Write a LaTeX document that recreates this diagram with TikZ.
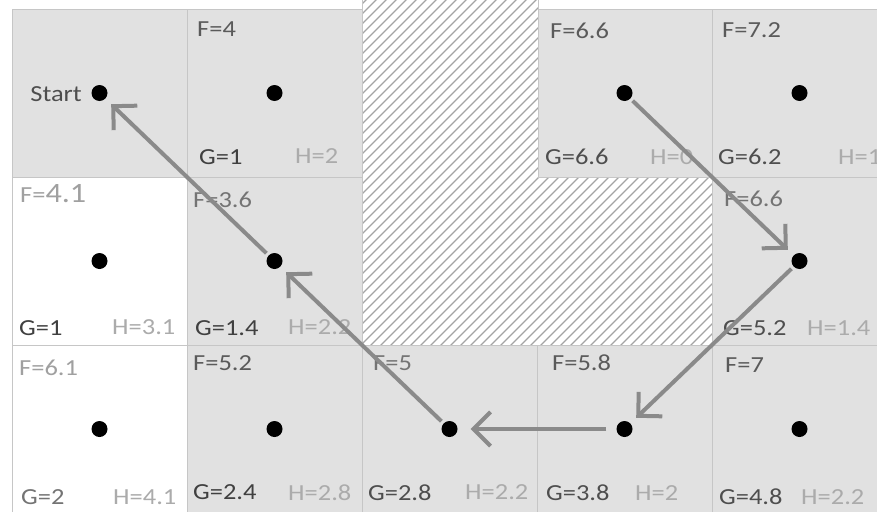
\documentclass[tikz,border=0pt]{standalone}
\usepackage{fontspec}
\setmainfont{Carlito}[FakeStretch=1.15]
\usetikzlibrary{arrows.meta}
\definecolor{cellgray}{HTML}{E1E1E1}
\definecolor{gridline}{HTML}{C6C6C6}
\definecolor{hatchc}{HTML}{A4A4A4}
\definecolor{arrowc}{HTML}{8A8A8A}
\definecolor{fdark}{HTML}{5A5A5A}
\definecolor{fmid}{HTML}{747474}
\definecolor{flight}{HTML}{A0A0A0}
\definecolor{gdark}{HTML}{404040}
\definecolor{gmid}{HTML}{4E4E4E}
\definecolor{hlight}{HTML}{ABABAB}
\tikzset{
  graycell/.style={fill=cellgray, draw=gridline, line width=0.9pt},
  whitecell/.style={fill=white, draw=gridline, line width=0.9pt},
  hatchline/.style={draw=hatchc, line width=1.1pt},
  dot/.style={circle, fill=black, inner sep=0pt, minimum size=16pt},
  lbl/.style={anchor=west, inner sep=0pt, font=\fontsize{23}{26}\selectfont},
  route/.style={draw=arrowc, line width=4pt, -{Straight Barb[length=17pt,width=34pt]}, shorten <=3pt, shorten >=8pt},
}
\begin{document}
\begin{tikzpicture}[x=1pt,y=-1pt]
\useasboundingbox (0,0) rectangle (877,511);
\clip (0,0) rectangle (877,511);
\fill[white] (0,0) rectangle (877,511);
% cells
\foreach \c/\r/\s in {0/0/graycell,1/0/graycell,3/0/graycell,4/0/graycell,
  0/1/whitecell,1/1/graycell,4/1/graycell,
  0/2/whitecell,1/2/graycell,2/2/graycell,3/2/graycell,4/2/graycell}{
  \path[\s] ({12+175*\c},{9+168*\r}) rectangle ++(175,168);
}
% hatched obstacle
\begin{scope}
  \clip (362,0) -- (538,0) -- (538,177) -- (712,177) -- (712,345) -- (362,345) -- cycle;
  \fill[white] (362,0) rectangle (712,345);
  \foreach \k in {0,...,74}{
    \draw[hatchline] ({6+10*\k},350) -- ++(400,-400);
  }
\end{scope}
\draw[gridline, line width=0.9pt] (362,0) -- (362,345) -- (712,345) -- (712,177) -- (538,177) -- (538,0);
% dots
\foreach \c in {0,1,3,4}{
  \node[dot] (d\c0) at ({99.5+175*\c},93) {};
}
\node[dot] (d01) at (99.5,261) {};
\node[dot] (d11) at (274.5,261) {};
\node[dot] (d41) at (799.5,261) {};
\foreach \c in {0,...,4}{
  \node[dot] (d\c2) at ({99.5+175*\c},429) {};
}
% labels row 1
\node[lbl, anchor=east, text=gmid] (start) at (82,94) {Start};
\node[lbl, text=fdark] (f10) at (197,29) {F=4};
\node[lbl, text=gdark] (g10) at (199,157) {G=1};
\node[lbl, text=hlight] (h10) at (295,156) {H=2};
\node[lbl, text=fdark] (f30) at (550,31) {F=6.6};
\node[lbl, text=gmid] (g30) at (545,157) {G=6.6};
\node[lbl, text=hlight] (h30) at (650,157) {H=0};
\node[lbl, text=fdark] (f40) at (722,30) {F=7.2};
\node[lbl, text=gmid] (g40) at (718,157) {G=6.2};
\node[lbl, text=hlight] (h40) at (838,157) {H=1};
% labels row 2
\node[lbl, text=flight] (f01) at (20,194) {F=\fontsize{28}{30}\selectfont 4.1};
\node[lbl, text=gdark] (g01) at (19,328) {G=1};
\node[lbl, text=hlight] (h01) at (112,327) {H=3.1};
\node[lbl, text=fmid] (f11) at (193,200) {F=3.6};
\node[lbl, text=gdark] (g11) at (195,328) {G=1.4};
\node[lbl, text=hlight] (h11) at (288,327) {H=2.2};
\node[lbl, text=fmid] (f41) at (724,199) {F=6.6};
\node[lbl, text=gmid] (g41) at (723,328) {G=5.2};
\node[lbl, text=hlight] (h41) at (807,328) {H=1.4};
% labels row 3
\node[lbl, text=flight] (f02) at (19,368) {F=6.1};
\node[lbl, text=fmid] (g02) at (21,497) {G=2};
\node[lbl, text=hlight] (h02) at (113,497) {H=4.1};
\node[lbl, text=fdark] (f12) at (193,363) {F=5.2};
\node[lbl, text=gdark] (g12) at (193,492) {G=2.4};
\node[lbl, text=hlight] (h12) at (288,493) {H=2.8};
\node[lbl, text=fmid] (f22) at (373,363) {F=5};
\node[lbl, text=gmid] (g22) at (368,493) {G=2.8};
\node[lbl, text=hlight] (h22) at (465,492) {H=2.2};
\node[lbl, text=fdark] (f32) at (552,363) {F=5.8};
\node[lbl, text=gmid] (g32) at (546,493) {G=3.8};
\node[lbl, text=hlight] (h32) at (635,493) {H=2};
\node[lbl, text=fdark] (f42) at (725,365) {F=7};
\node[lbl, text=gmid] (g42) at (719,497) {G=4.8};
\node[lbl, text=hlight] (h42) at (801,497) {H=2.2};
% path arrows
\draw[route] (d30) -- (d41);
\draw[route] (d41) -- (d32);
\draw[route, shorten <=10pt, shorten >=13pt] (d32) -- (d22);
\draw[route] (d22) -- (d11);
\draw[route] (d11) -- (d00);
\end{tikzpicture}
\end{document}
